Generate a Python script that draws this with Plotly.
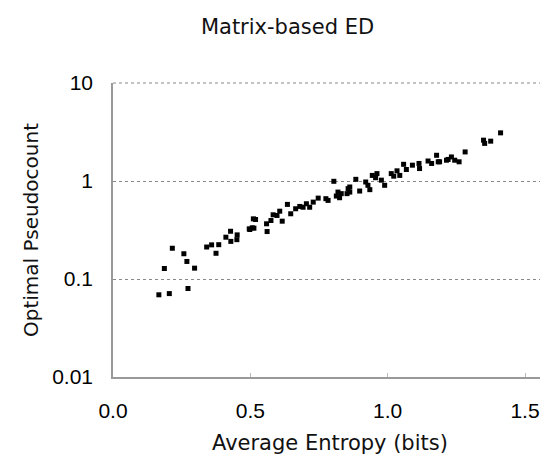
import plotly.graph_objects as go

# Average entropy (bits)
entropy = [0.167, 0.205, 0.273, 0.187, 0.216, 0.258, 0.269, 0.297, 0.341, 0.359,
           0.385, 0.375, 0.411, 0.428, 0.429, 0.452, 0.451, 0.496, 0.507, 0.511,
           0.498, 0.513, 0.519, 0.561, 0.559, 0.575, 0.583, 0.597, 0.607, 0.616,
           0.635, 0.647, 0.665, 0.680, 0.692, 0.704, 0.716, 0.729, 0.747, 0.775,
           0.783, 0.804, 0.813, 0.819, 0.825, 0.852, 0.856, 0.831, 0.862, 0.862,
           0.884, 0.898, 0.920, 0.928, 0.935, 0.944, 0.956, 0.961, 0.977, 0.989,
           1.013, 1.022, 1.034, 1.044, 1.058, 1.068, 1.090, 1.114, 1.116, 1.147,
           1.160, 1.178, 1.184, 1.214, 1.189, 1.220, 1.232, 1.244, 1.260, 1.282,
           1.349, 1.353, 1.375, 1.411]
# Optimal pseudocount
pseudocount = [0.069, 0.071, 0.080, 0.128, 0.206, 0.181, 0.151, 0.129, 0.212, 0.223,
               0.224, 0.183, 0.267, 0.307, 0.242, 0.282, 0.252, 0.325, 0.333, 0.411,
               0.320, 0.330, 0.405, 0.305, 0.366, 0.395, 0.452, 0.445, 0.492, 0.389,
               0.577, 0.463, 0.521, 0.550, 0.540, 0.586, 0.540, 0.609, 0.669, 0.660,
               0.634, 0.993, 0.702, 0.771, 0.675, 0.743, 0.836, 0.743, 0.869, 0.771,
               1.040, 0.790, 0.977, 0.904, 0.816, 1.140, 1.080, 1.190, 1.020, 0.904,
               1.190, 1.120, 1.270, 1.140, 1.480, 1.310, 1.450, 1.510, 1.340, 1.600,
               1.510, 1.830, 1.570, 1.630, 1.570, 1.660, 1.760, 1.630, 1.570, 1.980,
               2.610, 2.420, 2.550, 3.100]

x_ticks = [0.0, 0.5, 1.0, 1.5]
x_tick_labels = ["0.0", "0.5", "1.0", "1.5"]
y_ticks = [0.01, 0.1, 1, 10]
y_tick_labels = ["0.01", "0.1", "1", "10"]

TICK_FONT = "Liberation Sans, Arial, sans-serif"
TITLE_FONT = "DejaVu Sans, sans-serif"

fig = go.Figure()
fig.add_trace(go.Scatter(
    x=entropy, y=pseudocount, mode="markers",
    marker=dict(symbol="square", size=5, color="black", line=dict(width=0)),
    showlegend=False,
))

fig.update_layout(
    width=540, height=449,
    paper_bgcolor="white", plot_bgcolor="white",
    margin=dict(l=105, r=1, t=75, b=80),
    font=dict(family=TICK_FONT, color="black", size=21),
    title=dict(text="Matrix-based ED", x=0.5176, xanchor="center", xref="container",
               y=0.958, yanchor="middle", yref="container",
               font=dict(size=21, family=TITLE_FONT, color="#111111")),
)
fig.update_xaxes(
    range=[0, 1.58], tickvals=x_ticks, ticktext=x_tick_labels,
    showline=True, linecolor="#999999", linewidth=1.5,
    ticks="inside", ticklen=4, tickcolor="#bbbbbb",
    showgrid=False, zeroline=False, automargin=False,
    tickfont=dict(size=21), ticklabelstandoff=14,
)
fig.add_annotation(
    text="Average Entropy (bits)", xref="paper", yref="paper", x=0.5, y=-0.224,
    xanchor="center", yanchor="middle", showarrow=False,
    font=dict(size=21, family=TITLE_FONT, color="#111111"),
)
fig.update_yaxes(
    type="log", range=[-2, 1], tickvals=y_ticks, ticktext=y_tick_labels,
    showline=True, linecolor="#999999", linewidth=1.5,
    ticks="", showgrid=True, gridcolor="#888888", griddash="dot", gridwidth=1,
    zeroline=False, automargin=False, tickfont=dict(size=21), ticklabelstandoff=14,
    title=dict(text="Optimal Pseudocount", font=dict(size=20, family=TITLE_FONT, color="#111111"),
               standoff=8),
)
fig.add_shape(type="line", xref="paper", yref="paper", x0=0, x1=1, y0=1, y1=1,
              line=dict(color="#888888", width=1, dash="dot"))
fig.add_shape(type="line", xref="paper", yref="paper", x0=1, x1=1, y0=0, y1=1,
              line=dict(color="#dddddd", width=1))

fig.write_html("out.html")
